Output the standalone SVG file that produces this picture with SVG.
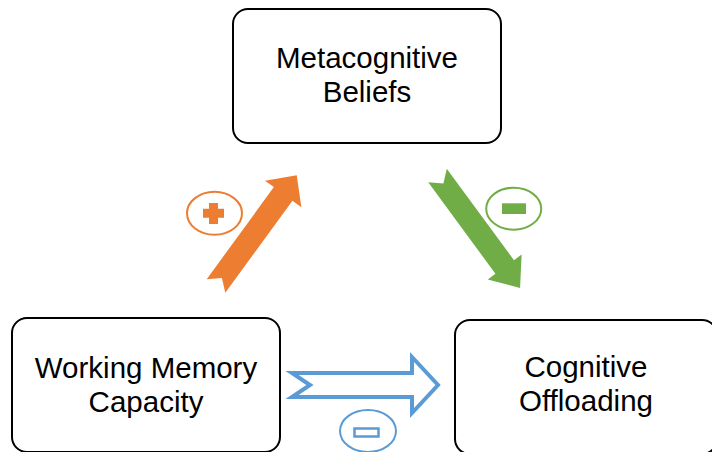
<svg xmlns="http://www.w3.org/2000/svg" width="712" height="452" viewBox="0 0 712 452">
<style>
.box{fill:#fff;stroke:#000;stroke-width:2}
.lbl{font-family:"Liberation Sans",Arial,sans-serif;font-size:29.5px;fill:#000;text-anchor:middle}
</style>
<rect width="712" height="452" fill="#fff"/>
<g id="connectors">
<g id="arrow-wm-mb">
<polygon transform="translate(216,286) rotate(-53.9)" points="0,-11.5 114,-11.5 114,-22.5 137,0 114,22.5 114,11.5 0,11.5 10,0" fill="#ED7D31"/>
<ellipse cx="214.5" cy="213.3" rx="27.5" ry="21.5" fill="none" stroke="#ED7D31" stroke-width="2"/>
<path d="M203,208.8 H209 V203 H218 V208.8 H224 V217.8 H218 V224 H209 V217.8 H203 Z" fill="#ED7D31"/>
</g>
<g id="arrow-mb-co">
<polygon transform="translate(437.5,175.5) rotate(53.7)" points="0,-11.5 113.5,-11.5 113.5,-21 139.5,0 113.5,21 113.5,11.5 0,11.5 10,0" fill="#70AD47"/>
<ellipse cx="513.7" cy="208.7" rx="27.5" ry="21" fill="none" stroke="#70AD47" stroke-width="2"/>
<rect x="502" y="203.3" width="24" height="10.7" fill="#70AD47"/>
</g>
<g id="arrow-wm-co">
<path d="M292,373 L412,373 L412,357 L438,385 L412,413 L412,397 L292,397 L310,385 Z" fill="#fff" stroke="#5B9BD5" stroke-width="4" stroke-linejoin="miter"/>
<ellipse cx="368" cy="431" rx="28" ry="21" fill="none" stroke="#5B9BD5" stroke-width="2"/>
<rect x="354.5" y="428.5" width="24" height="8" fill="none" stroke="#5B9BD5" stroke-width="2.5"/>
</g>
</g>
<g id="node-metacognitive-beliefs">
<rect class="box" x="233" y="9" width="268" height="134" rx="15"/>
<text class="lbl" x="367" y="68">Metacognitive</text>
<text class="lbl" x="367" y="102">Beliefs</text>
</g>
<g id="node-working-memory-capacity">
<rect class="box" x="12" y="318" width="268" height="134" rx="15"/>
<text class="lbl" x="146" y="378">Working Memory</text>
<text class="lbl" x="146" y="412">Capacity</text>
</g>
<g id="node-cognitive-offloading">
<rect class="box" x="455" y="320" width="262" height="134" rx="15"/>
<text class="lbl" x="586" y="377">Cognitive</text>
<text class="lbl" x="586" y="411">Offloading</text>
</g>
</svg>
